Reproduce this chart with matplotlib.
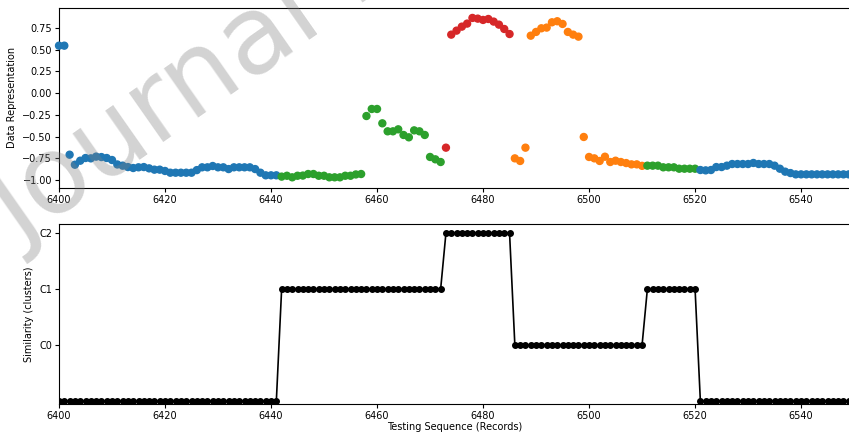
import numpy as np
import matplotlib
matplotlib.use("Agg")
import matplotlib.pyplot as plt

# record index 6400 .. 6549
start = 6400

values = [
    0.546, 0.546, -0.708, -0.823, -0.777, -0.746, -0.750, -0.730, -0.735, -0.746,   # 6400
    -0.769, -0.820, -0.834, -0.850, -0.861, -0.853, -0.850, -0.865, -0.880, -0.880,  # 6410
    -0.895, -0.915, -0.915, -0.915, -0.915, -0.915, -0.885, -0.853, -0.853, -0.838,  # 6420
    -0.853, -0.853, -0.873, -0.853, -0.853, -0.853, -0.853, -0.873, -0.915, -0.945,  # 6430
    -0.945, -0.945, -0.960, -0.950, -0.968, -0.950, -0.948, -0.930, -0.930, -0.950,  # 6440
    -0.950, -0.968, -0.968, -0.968, -0.950, -0.950, -0.935, -0.930, -0.263, -0.182,  # 6450
    -0.182, -0.347, -0.439, -0.439, -0.416, -0.481, -0.508, -0.428, -0.439, -0.481,  # 6460
    -0.734, -0.761, -0.792, -0.627, 0.673, 0.719, 0.765, 0.800, 0.865, 0.857,        # 6470
    0.842, 0.853, 0.823, 0.788, 0.738, 0.680, -0.750, -0.780, -0.627, 0.661,         # 6480
    0.704, 0.746, 0.754, 0.815, 0.827, 0.796, 0.704, 0.673, 0.650, -0.504,           # 6490
    -0.734, -0.750, -0.780, -0.731, -0.792, -0.777, -0.792, -0.804, -0.819, -0.819,  # 6500
    -0.836, -0.834, -0.834, -0.834, -0.853, -0.853, -0.853, -0.869, -0.869, -0.869,  # 6510
    -0.869, -0.884, -0.888, -0.884, -0.850, -0.850, -0.834, -0.815, -0.815, -0.815,  # 6520
    -0.815, -0.803, -0.815, -0.815, -0.815, -0.834, -0.869, -0.903, -0.919, -0.934,  # 6530
    -0.934, -0.934, -0.934, -0.934, -0.934, -0.934, -0.934, -0.934, -0.934, -0.934,  # 6540
]

# cluster label per record (-1 = noise)
segments = [(-1, 42), (1, 31), (2, 13), (0, 25), (1, 10), (-1, 29)]
labels = np.concatenate([[lab] * n for lab, n in segments])

cluster_ticks = [0, 1, 2]
cluster_names = ["C0", "C1", "C2"]

records = np.arange(start, start + len(values))
values = np.array(values)

palette = plt.get_cmap("tab10").colors
point_colors = [palette[lab + 1] for lab in labels]

fig = plt.figure(figsize=(8.49, 4.34), dpi=100)
ax1 = fig.add_axes([0.0695, 0.567, 0.9315, 0.4147])
ax2 = fig.add_axes([0.0695, 0.0691, 0.9315, 0.4147])

ax1.scatter(records, values, c=point_colors, s=25, zorder=3, clip_on=False)
ax1.set_xlim(6400, 6549.2)
ax1.set_ylim(-1.09, 0.98)
ax1.set_yticks([0.75, 0.5, 0.25, 0.0, -0.25, -0.5, -0.75, -1.0])
ax1.set_ylabel("Data Representation", fontsize=7)

ax2.plot(records, labels, color="black", marker="o", markersize=4, linewidth=1.2)
ax2.set_xlim(6400, 6549.2)
ax2.set_ylim(-1.05, 2.16)
ax2.set_yticks(cluster_ticks)
ax2.set_yticklabels(cluster_names)
ax2.set_ylabel("Similarity (clusters)", fontsize=7)
ax2.set_xlabel("Testing Sequence (Records)", fontsize=7, labelpad=1)

for ax in (ax1, ax2):
    ax.spines["right"].set_visible(False)
    ax.tick_params(labelsize=7, length=3, pad=2)

# journal watermark
fig.text(0.004, 0.49, "Journal Pre-proof", fontsize=78, color="gray",
         alpha=0.35, rotation=35, ha="left", va="center",
         rotation_mode="anchor")

fig.savefig("out.png", dpi=100)
